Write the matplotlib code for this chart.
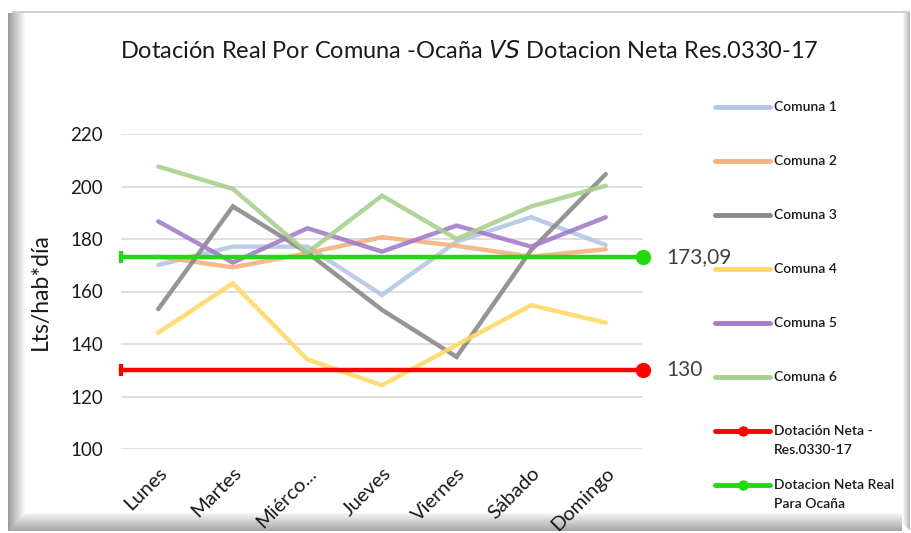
import matplotlib
matplotlib.use("Agg")
import matplotlib.pyplot as plt
import matplotlib.colors as mcolors
from matplotlib.patches import Rectangle
from matplotlib.lines import Line2D

plt.rcParams['font.family'] = ['Lato', 'DejaVu Sans']

days = ["Lunes", "Martes", "Miérco...", "Jueves", "Viernes", "Sábado", "Domingo"]
comuna1 = [170.1, 177.1, 177.1, 158.7, 179.0, 188.3, 177.7]
comuna2 = [173.3, 169.2, 174.6, 180.7, 177.4, 173.3, 176.1]
comuna3 = [153.3, 192.4, 174.8, 153.0, 135.1, 175.8, 204.7]
comuna4 = [144.3, 163.1, 134.1, 124.3, 139.6, 154.8, 148.1]
comuna5 = [186.7, 171.0, 184.1, 175.2, 185.1, 177.1, 188.3]
comuna6 = [207.6, 199.1, 174.8, 196.5, 180.0, 192.4, 200.3]
dotacion_neta = 130
dotacion_real = 173.09

series = [("Comuna 1", comuna1, "#B4C7E7"),
          ("Comuna 2", comuna2, "#F4B183"),
          ("Comuna 3", comuna3, "#8A8A8A"),
          ("Comuna 4", comuna4, "#FFD966"),
          ("Comuna 5", comuna5, "#A47CC9"),
          ("Comuna 6", comuna6, "#A9D18E")]
ref_lines = [("Dotación Neta -\nRes.0330-17", dotacion_neta, "#FF0000", "130"),
             ("Dotacion Neta Real\nPara Ocaña", dotacion_real, "#22D811", "173,09")]

W, H = 912, 533
fig = plt.figure(figsize=(W / 100, H / 100), dpi=100)
fig.patch.set_facecolor("white")


def px_rect(x0, y0, w, h, color, z=-10):
    fig.add_artist(Rectangle((x0 / W, 1 - (y0 + h) / H), w / W, h / H, transform=fig.transFigure,
                             facecolor=color, edgecolor="none", zorder=z))


def mix(c1, c2, t):
    a, b = mcolors.to_rgb(c1), mcolors.to_rgb(c2)
    return tuple(a[k] + (b[k] - a[k]) * t for k in range(3))


# beveled frame around the chart
px_rect(12, 11, 898, 2, "#CFCFCF")
n = 18
for i in range(n):
    px_rect(8 + i, 13, 1, 518 - i, mix("#9C9C9C", "#FFFFFF", i / (n - 1)))
n = 18
for i in range(n):
    px_rect(8 + i + 1, 531 - i - 1, 902 - (8 + i + 1), 1, mix("#A6A6A6", "#F4F4F4", i / (n - 1)))
n = 8
for i in range(n):
    px_rect(910 - i - 1, 13, 1, 517 - i, mix("#B8B8B8", "#FFFFFF", i / (n - 1)))

ax = fig.add_axes([121 / W, 1 - 449 / H, 522 / W, 315 / H])
ax.set_facecolor("none")
x = list(range(len(days)))
for name, vals, col in series:
    ax.plot(x, vals, color=col, lw=3.2, alpha=0.9, solid_capstyle="round",
            solid_joinstyle="miter", label=name)

for name, val, col, txt in ref_lines:
    ax.plot([-0.5, 6.5], [val, val], color=col, lw=3.2, marker="o", markersize=10,
            markevery=[1], clip_on=False, zorder=5)
    ax.plot([-0.5], [val], marker="|", color=col, markersize=9, mew=3, clip_on=False, zorder=5)
    ax.annotate(txt, xy=(6.5, val), xytext=(16.5, 0), textcoords="offset points",
                va="center", ha="left", fontsize=15, color="#404040", annotation_clip=False)

ax.set_xlim(-0.5, 6.5)
ax.set_ylim(100, 220)
ax.set_yticks(range(100, 221, 20))
ax.tick_params(axis="y", length=0, labelsize=13.5, pad=13, labelcolor="#1a1a1a")
ax.set_xticks(x)
ax.set_xticklabels(days, rotation=45, ha="right", rotation_mode="anchor", fontsize=14.5, color="#1a1a1a")
ax.tick_params(axis="x", length=0, pad=11)
ax.grid(axis="y", color="#D9D9D9", lw=1.2)
ax.set_axisbelow(True)
for s in ax.spines.values():
    s.set_visible(False)
ax.set_ylabel("Lts/hab*día", fontsize=16.5, color="#1a1a1a", labelpad=14)

fig.text(0.515, 0.905, "Dotación Real Por Comuna -Ocaña $\\it{VS}$ Dotacion Neta Res.0330-17",
         ha="center", va="center", fontsize=17, color="#1a1a1a")

# legend (Excel style: handles evenly spaced, multi-line labels hang below)
entries = [(s[0], s[2], False) for s in series] + [(r[0], r[2], True) for r in ref_lines]
y0, dy, line_h = 107, 54, 19.5
for i, (label, col, mk) in enumerate(entries):
    yy = 1 - (y0 + dy * i) / H
    fig.add_artist(Line2D([715 / W, 770 / W], [yy, yy], transform=fig.transFigure,
                          color=col, lw=3.5, solid_capstyle="round"))
    if mk:
        fig.add_artist(Line2D([742.5 / W], [yy], transform=fig.transFigure, color=col,
                              marker="o", markersize=6.5))
    for j, part in enumerate(label.split("\n")):
        fig.text(774 / W, yy - j * line_h / H, part, ha="left", va="center",
                 fontsize=10, fontweight="semibold", color="#1a1a1a")

fig.savefig("out.png", dpi=100, facecolor="white")
